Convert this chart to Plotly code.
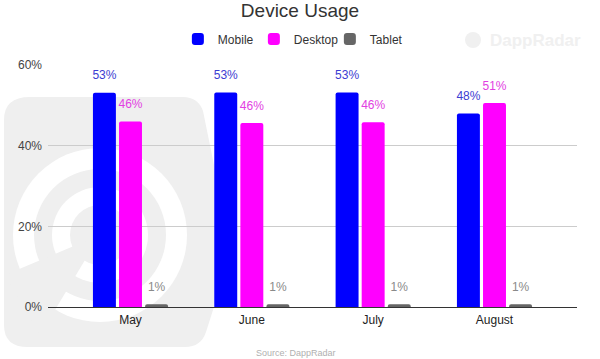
import plotly.graph_objects as go

months = ["May", "June", "July", "August"]
mobile = [53.1, 53.2, 53.2, 48.0]
desktop = [46.0, 45.6, 45.8, 50.6]
tablet = [0.7, 0.7, 0.7, 0.7]
y_ticks = [0, 20, 40, 60]
y_ticktext = [f"{v}%" for v in y_ticks]

W, H = 600, 359
ML, MR, MT, MB = 48, 23, 65, 52
PW, PH = W - ML - MR, H - MT - MB
FONT = "Arial, Liberation Sans, sans-serif"


def px(x):
    return (x - ML) / PW


def py(y):
    return (H - MB - y) / PH


fig = go.Figure()
series = [
    ("Mobile", mobile, "#0000ff", "#3c3cd2"),
    ("Desktop", desktop, "#ff00ff", "#e23ee2"),
    ("Tablet", tablet, "#666666", "#8a8a8a"),
]
for i, (name, vals, col, tcol) in enumerate(series):
    fig.add_trace(go.Bar(
        name=name, x=months, y=vals, offsetgroup=str(i),
        marker=dict(color=col, cornerradius=2, line=dict(width=0)),
        hoverinfo="skip",
    ))
for i, (name, vals, col, tcol) in enumerate(series):
    fig.add_trace(go.Scatter(
        x=months, y=vals, offsetgroup=str(i), mode="markers+text",
        marker=dict(size=15, opacity=0),
        texttemplate="%{y:.0f}%", textposition="top center",
        textfont=dict(color=tcol, size=12, family=FONT),
        showlegend=False, hoverinfo="skip", cliponaxis=False,
    ))

# watermark shapes (DappRadar logo)
G = "#efefef"
shapes = []


def path_px(cmds):
    out = []
    for c in cmds:
        if isinstance(c, str):
            out.append(c)
        else:
            out.append(f"{px(c[0]):.5f},{py(c[1]):.5f}")
    return " ".join(out)


hexpath = path_px([
    "M", (4, 120), "Q", (4, 97), (30, 97), "L", (183, 97), "Q", (198, 97), (203, 111),
    "L", (214, 165), "Q", (217, 180), (217, 195), "L", (217, 285), "Q", (217, 298), (213, 310),
    "L", (206, 332), "Q", (201, 347), (185, 347), "L", (28, 347), "Q", (4, 347), (4, 325), "Z"])
shapes.append(dict(type="path", path=hexpath, xref="paper", yref="paper",
                   fillcolor=G, line=dict(width=0), layer="below"))
cx, cy = 100, 235
for r, c in [(87, "white"), (66, G), (48, "white"), (30, G)]:
    shapes.append(dict(type="circle", xref="paper", yref="paper",
                       x0=px(cx - r), x1=px(cx + r), y0=py(cy + r), y1=py(cy - r),
                       fillcolor=c, line=dict(width=0), layer="below"))
wedge = path_px(["M", (cx, cy), "L", (cx - 95, cy + 40), "L", (cx - 60, cy + 100), "Z"])
shapes.append(dict(type="path", path=wedge, xref="paper", yref="paper",
                   fillcolor=G, line=dict(width=0), layer="below"))
shapes.append(dict(type="circle", xref="paper", yref="paper",
                   x0=px(465), x1=px(481), y0=py(48), y1=py(32),
                   fillcolor="#f0f0f0", line=dict(width=0), layer="below"))

fig.update_layout(
    width=W, height=H,
    margin=dict(l=ML, r=MR, t=MT, b=MB, autoexpand=False),
    paper_bgcolor="white", plot_bgcolor="rgba(0,0,0,0)",
    font=dict(family=FONT, color="#333333"),
    title=dict(text="Device Usage", x=0.5, xanchor="center",
               y=1 - 10 / H, yanchor="middle", yref="container",
               font=dict(size=19, color="#333333", family=FONT)),
    legend=dict(orientation="h", x=0.461, xanchor="center", y=1 - 39 / H,
                yanchor="middle", yref="container",
                font=dict(size=12, color="#333333", family=FONT),
                entrywidth=31, entrywidthmode="pixels", traceorder="normal"),
    barmode="group", bargap=0.355, bargroupgap=0.12,
    scattermode="group", scattergap=0.355,
    showlegend=True,
    shapes=shapes,
    annotations=[
        dict(text="<b>DappRadar</b>", xref="paper", yref="paper",
             x=px(535), y=py(40), showarrow=False, yanchor="middle", xanchor="center",
             font=dict(size=17, color="#f0f0f0", family=FONT)),
        dict(text="Source: DappRadar", xref="paper", yref="paper",
             x=px(296), y=py(353), showarrow=False, yanchor="middle",
             font=dict(size=9, color="#b0b0b0", family=FONT)),
    ],
)
fig.update_xaxes(range=[-0.68, 3.68], showgrid=False, showline=False,
                 ticks="", ticklabelstandoff=4,
                 tickfont=dict(size=12, color="#222222", family=FONT))
fig.update_yaxes(range=[0, 60], tickmode="array", tickvals=y_ticks, ticktext=y_ticktext,
                 showgrid=True, gridcolor="#cccccc", gridwidth=1,
                 zeroline=True, zerolinecolor="#333333", zerolinewidth=1,
                 tickfont=dict(size=12, color="#444444", family=FONT), ticks="",
                 ticklabelstandoff=5)

fig.write_html("out.html", config={"displayModeBar": False},
               post_script="document.body.style.margin='0px';")
